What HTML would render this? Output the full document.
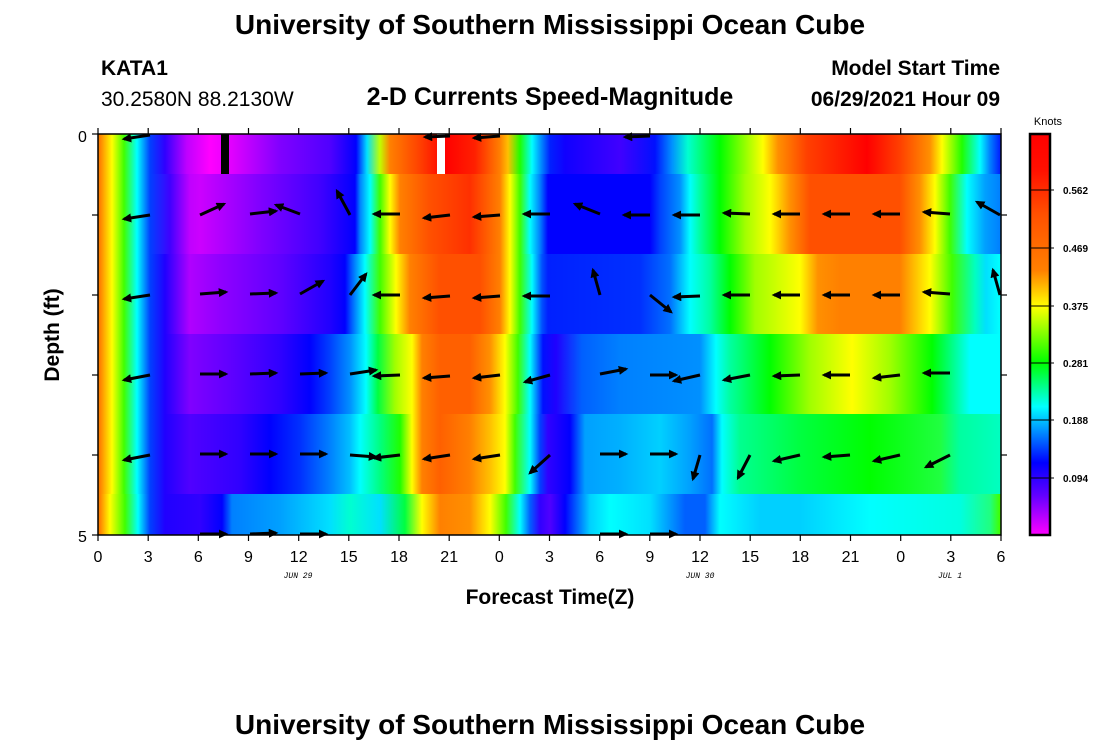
<!DOCTYPE html>
<html><head><meta charset="utf-8"><style>
body{margin:0;background:#fff;}
svg{display:block;font-family:"Liberation Sans",sans-serif;}
</style></head><body>
<svg width="1100" height="750" viewBox="0 0 1100 750" xmlns="http://www.w3.org/2000/svg">
<defs>
<linearGradient id="gA" gradientUnits="userSpaceOnUse" x1="0" y1="0" x2="1000" y2="0">
<stop offset=".100" stop-color="#ff8000"/><stop offset=".112" stop-color="#ffff00"/><stop offset=".124" stop-color="#40ff00"/><stop offset=".137" stop-color="#00ffff"/><stop offset=".150" stop-color="#0040ff"/><stop offset=".165" stop-color="#3000ff"/><stop offset=".187" stop-color="#c000ff"/><stop offset=".210" stop-color="#ff00ff"/><stop offset=".232" stop-color="#e000ff"/><stop offset=".280" stop-color="#8000ff"/><stop offset=".330" stop-color="#5000ff"/><stop offset=".356" stop-color="#0000ff"/><stop offset=".367" stop-color="#00e0ff"/><stop offset=".380" stop-color="#c0ff00"/><stop offset=".390" stop-color="#ff8000"/><stop offset=".420" stop-color="#ff4000"/><stop offset=".445" stop-color="#ff0000"/><stop offset=".475" stop-color="#ff2000"/><stop offset=".500" stop-color="#ff8000"/><stop offset=".508" stop-color="#ffc000"/><stop offset=".520" stop-color="#20ff00"/><stop offset=".532" stop-color="#00ffff"/><stop offset=".542" stop-color="#0080ff"/><stop offset=".550" stop-color="#0020ff"/><stop offset=".565" stop-color="#1000ff"/><stop offset=".620" stop-color="#4000ff"/><stop offset=".655" stop-color="#0010ff"/><stop offset=".672" stop-color="#0090ff"/><stop offset=".688" stop-color="#00ffd0"/><stop offset=".700" stop-color="#00ff80"/><stop offset=".720" stop-color="#00ff00"/><stop offset=".747" stop-color="#a0ff00"/><stop offset=".763" stop-color="#ffff00"/><stop offset=".778" stop-color="#ff9000"/><stop offset=".807" stop-color="#ff4000"/><stop offset=".867" stop-color="#ff0000"/><stop offset=".900" stop-color="#ff4000"/><stop offset=".930" stop-color="#ff9000"/><stop offset=".942" stop-color="#ffff00"/><stop offset=".962" stop-color="#20ff00"/><stop offset=".980" stop-color="#00ffff"/><stop offset=".990" stop-color="#0080ff"/><stop offset="1" stop-color="#0020ff"/>
</linearGradient>
<linearGradient id="gB" gradientUnits="userSpaceOnUse" x1="0" y1="0" x2="1000" y2="0">
<stop offset=".100" stop-color="#ff8000"/><stop offset=".112" stop-color="#ffff00"/><stop offset=".124" stop-color="#40ff00"/><stop offset=".137" stop-color="#00ffff"/><stop offset=".150" stop-color="#0040ff"/><stop offset=".170" stop-color="#4000ff"/><stop offset=".190" stop-color="#c000ff"/><stop offset=".200" stop-color="#cc00ff"/><stop offset=".260" stop-color="#8000ff"/><stop offset=".320" stop-color="#4000ff"/><stop offset=".355" stop-color="#0000ff"/><stop offset=".360" stop-color="#0080ff"/><stop offset=".370" stop-color="#00ffff"/><stop offset=".380" stop-color="#40ff00"/><stop offset=".390" stop-color="#ffff00"/><stop offset=".400" stop-color="#ff8000"/><stop offset=".430" stop-color="#ff5000"/><stop offset=".470" stop-color="#ff3000"/><stop offset=".500" stop-color="#ff8000"/><stop offset=".510" stop-color="#ffff00"/><stop offset=".520" stop-color="#40ff00"/><stop offset=".530" stop-color="#00ffff"/><stop offset=".540" stop-color="#0080ff"/><stop offset=".548" stop-color="#0000ff"/><stop offset=".650" stop-color="#0000ff"/><stop offset=".660" stop-color="#0040ff"/><stop offset=".680" stop-color="#0090ff"/><stop offset=".690" stop-color="#00ffff"/><stop offset=".700" stop-color="#00ffa0"/><stop offset=".720" stop-color="#00ff00"/><stop offset=".745" stop-color="#a0ff00"/><stop offset=".770" stop-color="#ffff00"/><stop offset=".790" stop-color="#ff9000"/><stop offset=".810" stop-color="#ff5000"/><stop offset=".900" stop-color="#ff5000"/><stop offset=".920" stop-color="#ff9000"/><stop offset=".935" stop-color="#ffff00"/><stop offset=".950" stop-color="#40ff00"/><stop offset=".967" stop-color="#00ffff"/><stop offset=".985" stop-color="#00a0ff"/><stop offset="1" stop-color="#0080ff"/>
</linearGradient>
<linearGradient id="gC" gradientUnits="userSpaceOnUse" x1="0" y1="0" x2="1000" y2="0">
<stop offset=".100" stop-color="#ff8000"/><stop offset=".112" stop-color="#ffff00"/><stop offset=".124" stop-color="#40ff00"/><stop offset=".137" stop-color="#00ffff"/><stop offset=".150" stop-color="#0040ff"/><stop offset=".165" stop-color="#2000ff"/><stop offset=".190" stop-color="#b000ff"/><stop offset=".220" stop-color="#9000ff"/><stop offset=".280" stop-color="#6000ff"/><stop offset=".330" stop-color="#2000ff"/><stop offset=".345" stop-color="#0000ff"/><stop offset=".352" stop-color="#0060ff"/><stop offset=".365" stop-color="#00ffff"/><stop offset=".380" stop-color="#40ff00"/><stop offset=".396" stop-color="#ffff00"/><stop offset=".410" stop-color="#ff8000"/><stop offset=".440" stop-color="#ff5000"/><stop offset=".480" stop-color="#ff5000"/><stop offset=".500" stop-color="#ff8000"/><stop offset=".510" stop-color="#ffff00"/><stop offset=".520" stop-color="#40ff00"/><stop offset=".532" stop-color="#00ffff"/><stop offset=".542" stop-color="#0050ff"/><stop offset=".548" stop-color="#0020ff"/><stop offset=".640" stop-color="#0030ff"/><stop offset=".670" stop-color="#0070ff"/><stop offset=".690" stop-color="#00ffff"/><stop offset=".710" stop-color="#00ffa0"/><stop offset=".730" stop-color="#00ff00"/><stop offset=".755" stop-color="#a0ff00"/><stop offset=".800" stop-color="#ffff00"/><stop offset=".818" stop-color="#ff9000"/><stop offset=".840" stop-color="#ff8000"/><stop offset=".900" stop-color="#ff8000"/><stop offset=".915" stop-color="#ffc000"/><stop offset=".930" stop-color="#ffff00"/><stop offset=".952" stop-color="#40ff00"/><stop offset=".975" stop-color="#00ffc0"/><stop offset=".986" stop-color="#00e0ff"/><stop offset="1" stop-color="#00ffff"/>
</linearGradient>
<linearGradient id="gD" gradientUnits="userSpaceOnUse" x1="0" y1="0" x2="1000" y2="0">
<stop offset=".100" stop-color="#ff8000"/><stop offset=".112" stop-color="#ffff00"/><stop offset=".124" stop-color="#40ff00"/><stop offset=".137" stop-color="#00ffff"/><stop offset=".150" stop-color="#0040ff"/><stop offset=".165" stop-color="#2000ff"/><stop offset=".190" stop-color="#8000ff"/><stop offset=".230" stop-color="#6000ff"/><stop offset=".280" stop-color="#3000ff"/><stop offset=".310" stop-color="#0000ff"/><stop offset=".330" stop-color="#0040ff"/><stop offset=".350" stop-color="#0090ff"/><stop offset=".366" stop-color="#00ffff"/><stop offset=".378" stop-color="#00ff40"/><stop offset=".395" stop-color="#a0ff00"/><stop offset=".412" stop-color="#ffff00"/><stop offset=".422" stop-color="#ff8000"/><stop offset=".440" stop-color="#ff6000"/><stop offset=".470" stop-color="#ff6000"/><stop offset=".490" stop-color="#ff9000"/><stop offset=".505" stop-color="#ffff00"/><stop offset=".518" stop-color="#40ff00"/><stop offset=".530" stop-color="#00ffff"/><stop offset=".543" stop-color="#0010ff"/><stop offset=".556" stop-color="#2000ff"/><stop offset=".582" stop-color="#0060ff"/><stop offset=".620" stop-color="#0080ff"/><stop offset=".700" stop-color="#0090ff"/><stop offset=".716" stop-color="#00ffff"/><stop offset=".730" stop-color="#00ffa0"/><stop offset=".770" stop-color="#00ff00"/><stop offset=".810" stop-color="#a0ff00"/><stop offset=".852" stop-color="#ffff00"/><stop offset=".890" stop-color="#a0ff00"/><stop offset=".932" stop-color="#00ff00"/><stop offset=".956" stop-color="#00ffa0"/><stop offset=".970" stop-color="#00ffff"/><stop offset="1" stop-color="#00ffff"/>
</linearGradient>
<linearGradient id="gE" gradientUnits="userSpaceOnUse" x1="0" y1="0" x2="1000" y2="0">
<stop offset=".100" stop-color="#ff8000"/><stop offset=".112" stop-color="#ffff00"/><stop offset=".124" stop-color="#40ff00"/><stop offset=".137" stop-color="#00ffff"/><stop offset=".150" stop-color="#0040ff"/><stop offset=".165" stop-color="#2000ff"/><stop offset=".190" stop-color="#5000ff"/><stop offset=".240" stop-color="#3000ff"/><stop offset=".270" stop-color="#0000ff"/><stop offset=".300" stop-color="#0030ff"/><stop offset=".330" stop-color="#0080ff"/><stop offset=".350" stop-color="#00c0ff"/><stop offset=".360" stop-color="#00ffff"/><stop offset=".380" stop-color="#00ff80"/><stop offset=".400" stop-color="#20ff00"/><stop offset=".412" stop-color="#ffff00"/><stop offset=".422" stop-color="#ff8000"/><stop offset=".440" stop-color="#ff6000"/><stop offset=".470" stop-color="#ff8000"/><stop offset=".490" stop-color="#ffc000"/><stop offset=".505" stop-color="#ffff00"/><stop offset=".515" stop-color="#40ff00"/><stop offset=".530" stop-color="#00ffff"/><stop offset=".540" stop-color="#0040ff"/><stop offset=".548" stop-color="#3000ff"/><stop offset=".570" stop-color="#0000ff"/><stop offset=".585" stop-color="#00a0ff"/><stop offset=".620" stop-color="#00b0ff"/><stop offset=".660" stop-color="#00d0ff"/><stop offset=".690" stop-color="#00a0ff"/><stop offset=".712" stop-color="#0070ff"/><stop offset=".722" stop-color="#00ffff"/><stop offset=".740" stop-color="#00ff90"/><stop offset=".800" stop-color="#00ff40"/><stop offset=".870" stop-color="#00ff00"/><stop offset=".940" stop-color="#20ff40"/><stop offset=".960" stop-color="#00ffa0"/><stop offset="1" stop-color="#00ffc0"/>
</linearGradient>
<linearGradient id="gF" gradientUnits="userSpaceOnUse" x1="0" y1="0" x2="1000" y2="0">
<stop offset=".100" stop-color="#ff8000"/><stop offset=".110" stop-color="#ffff00"/><stop offset=".125" stop-color="#40ff00"/><stop offset=".138" stop-color="#00ffff"/><stop offset=".150" stop-color="#0040ff"/><stop offset=".165" stop-color="#2000ff"/><stop offset=".200" stop-color="#3000ff"/><stop offset=".222" stop-color="#0000ff"/><stop offset=".232" stop-color="#0080ff"/><stop offset=".280" stop-color="#00a0ff"/><stop offset=".330" stop-color="#00e0ff"/><stop offset=".350" stop-color="#00ffd0"/><stop offset=".380" stop-color="#00e0ff"/><stop offset=".405" stop-color="#00ff40"/><stop offset=".422" stop-color="#ffff00"/><stop offset=".440" stop-color="#ff8000"/><stop offset=".470" stop-color="#ff9000"/><stop offset=".490" stop-color="#ffff00"/><stop offset=".506" stop-color="#40ff00"/><stop offset=".520" stop-color="#00ffff"/><stop offset=".530" stop-color="#0060ff"/><stop offset=".540" stop-color="#3000ff"/><stop offset=".550" stop-color="#5000ff"/><stop offset=".565" stop-color="#0000ff"/><stop offset=".590" stop-color="#00d0ff"/><stop offset=".610" stop-color="#00ffff"/><stop offset=".650" stop-color="#00e0ff"/><stop offset=".685" stop-color="#0060ff"/><stop offset=".705" stop-color="#0060ff"/><stop offset=".720" stop-color="#00ffff"/><stop offset=".760" stop-color="#00d0ff"/><stop offset=".800" stop-color="#00d0ff"/><stop offset=".870" stop-color="#00ffff"/><stop offset=".960" stop-color="#00ffe0"/><stop offset=".990" stop-color="#20ff80"/><stop offset="1" stop-color="#40ff00"/>
</linearGradient>
<linearGradient id="cb" x1="0" y1="0" x2="0" y2="1">
<stop offset="0" stop-color="#ff0000"/><stop offset=".09" stop-color="#ff1000"/><stop offset=".2" stop-color="#ff5000"/><stop offset=".34" stop-color="#ff8000"/><stop offset=".43" stop-color="#ffff00"/><stop offset=".57" stop-color="#00ff00"/><stop offset=".68" stop-color="#00ffff"/><stop offset=".82" stop-color="#0000ff"/><stop offset=".9" stop-color="#6000ff"/><stop offset="1" stop-color="#ff00ff"/>
</linearGradient>
<marker id="ah" markerWidth="3.2" markerHeight="3" refX="2.4" refY="1.5" orient="auto" markerUnits="strokeWidth">
<path d="M0,0 L3.2,1.5 L0,3 z" fill="#000"/>
</marker>
</defs>

<text x="550" y="34" font-size="28" font-weight="bold" text-anchor="middle">University of Southern Mississippi Ocean Cube</text>
<text x="550" y="734" font-size="28" font-weight="bold" text-anchor="middle">University of Southern Mississippi Ocean Cube</text>
<text x="101" y="75" font-size="21" font-weight="bold">KATA1</text>
<text x="101" y="106" font-size="21">30.2580N  88.2130W</text>
<text x="550" y="105" font-size="25" font-weight="bold" text-anchor="middle">2-D Currents Speed-Magnitude</text>
<text x="1000" y="75" font-size="21" font-weight="bold" text-anchor="end">Model Start Time</text>
<text x="1000" y="106" font-size="21" font-weight="bold" text-anchor="end">06/29/2021 Hour 09</text>

<rect x="98" y="134" width="903" height="40" fill="url(#gA)"/>
<rect x="98" y="174" width="903" height="80" fill="url(#gB)"/>
<rect x="98" y="254" width="903" height="80" fill="url(#gC)"/>
<rect x="98" y="334" width="903" height="80" fill="url(#gD)"/>
<rect x="98" y="414" width="903" height="80" fill="url(#gE)"/>
<rect x="98" y="494" width="903" height="41" fill="url(#gF)"/>
<rect x="221" y="134" width="8" height="40" fill="#000"/>
<rect x="437" y="134" width="8" height="40" fill="#fff"/>

<g stroke="#000" stroke-width="3" marker-end="url(#ah)" fill="none">
<line x1="150" y1="135" x2="124" y2="139"/><line x1="450" y1="136" x2="425" y2="137"/><line x1="500" y1="136" x2="474" y2="138"/><line x1="650" y1="136" x2="625" y2="137"/>
<line x1="150" y1="215" x2="124" y2="219"/><line x1="200" y1="215" x2="224" y2="204"/><line x1="250" y1="214" x2="276" y2="211"/><line x1="300" y1="214" x2="276" y2="205"/><line x1="350" y1="215" x2="337" y2="191"/><line x1="400" y1="214" x2="374" y2="214"/><line x1="450" y1="215" x2="424" y2="218"/><line x1="500" y1="215" x2="474" y2="217"/><line x1="550" y1="214" x2="524" y2="214"/><line x1="600" y1="214" x2="575" y2="204"/><line x1="650" y1="215" x2="624" y2="215"/><line x1="700" y1="215" x2="674" y2="215"/><line x1="750" y1="214" x2="724" y2="213"/><line x1="800" y1="214" x2="774" y2="214"/><line x1="850" y1="214" x2="824" y2="214"/><line x1="900" y1="214" x2="874" y2="214"/><line x1="950" y1="214" x2="924" y2="212"/><line x1="1000" y1="215" x2="977" y2="202"/>
<line x1="150" y1="295" x2="124" y2="299"/><line x1="200" y1="294" x2="226" y2="292"/><line x1="250" y1="294" x2="276" y2="293"/><line x1="300" y1="294" x2="323" y2="281"/><line x1="350" y1="295" x2="366" y2="274"/><line x1="400" y1="295" x2="374" y2="295"/><line x1="450" y1="296" x2="424" y2="298"/><line x1="500" y1="296" x2="474" y2="298"/><line x1="550" y1="296" x2="524" y2="296"/><line x1="600" y1="295" x2="593" y2="270"/><line x1="650" y1="295" x2="671" y2="312"/><line x1="700" y1="296" x2="674" y2="297"/><line x1="750" y1="295" x2="724" y2="295"/><line x1="800" y1="295" x2="774" y2="295"/><line x1="850" y1="295" x2="824" y2="295"/><line x1="900" y1="295" x2="874" y2="295"/><line x1="950" y1="294" x2="924" y2="292"/><line x1="1000" y1="295" x2="993" y2="270"/>
<line x1="150" y1="375" x2="124" y2="380"/><line x1="200" y1="374" x2="226" y2="374"/><line x1="250" y1="374" x2="276" y2="373"/><line x1="300" y1="374" x2="326" y2="373"/><line x1="350" y1="374" x2="376" y2="370"/><line x1="400" y1="375" x2="374" y2="376"/><line x1="450" y1="376" x2="424" y2="378"/><line x1="500" y1="375" x2="474" y2="378"/><line x1="550" y1="375" x2="525" y2="382"/><line x1="600" y1="374" x2="626" y2="369"/><line x1="650" y1="375" x2="676" y2="375"/><line x1="700" y1="375" x2="674" y2="381"/><line x1="750" y1="375" x2="724" y2="380"/><line x1="800" y1="375" x2="774" y2="376"/><line x1="850" y1="375" x2="824" y2="375"/><line x1="900" y1="375" x2="874" y2="378"/><line x1="950" y1="373" x2="924" y2="373"/>
<line x1="150" y1="455" x2="124" y2="460"/><line x1="200" y1="454" x2="226" y2="454"/><line x1="250" y1="454" x2="276" y2="454"/><line x1="300" y1="454" x2="326" y2="454"/><line x1="350" y1="455" x2="376" y2="457"/><line x1="400" y1="455" x2="374" y2="458"/><line x1="450" y1="455" x2="424" y2="459"/><line x1="500" y1="455" x2="474" y2="459"/><line x1="550" y1="455" x2="530" y2="473"/><line x1="600" y1="454" x2="626" y2="454"/><line x1="650" y1="454" x2="676" y2="454"/><line x1="700" y1="455" x2="693" y2="479"/><line x1="750" y1="455" x2="738" y2="478"/><line x1="800" y1="455" x2="774" y2="461"/><line x1="850" y1="455" x2="824" y2="457"/><line x1="900" y1="455" x2="874" y2="461"/><line x1="950" y1="455" x2="926" y2="467"/>
<line x1="200" y1="534" x2="226" y2="534"/><line x1="250" y1="534" x2="276" y2="533"/><line x1="300" y1="534" x2="326" y2="534"/><line x1="600" y1="534" x2="626" y2="534"/><line x1="650" y1="534" x2="676" y2="534"/>
</g>

<rect x="98" y="134" width="903" height="401" fill="none" stroke="#000" stroke-width="1.5"/>
<g stroke="#000" stroke-width="1.2">
<line x1="92" y1="134" x2="98" y2="134"/><line x1="92" y1="535" x2="98" y2="535"/>
<line x1="92" y1="215" x2="98" y2="215"/><line x1="92" y1="295" x2="98" y2="295"/><line x1="92" y1="375" x2="98" y2="375"/><line x1="92" y1="455" x2="98" y2="455"/>
<line x1="1001" y1="215" x2="1007" y2="215"/><line x1="1001" y1="295" x2="1007" y2="295"/><line x1="1001" y1="375" x2="1007" y2="375"/><line x1="1001" y1="455" x2="1007" y2="455"/>
<path d="M98,535v6M148.2,535v6M198.3,535v6M248.5,535v6M298.7,535v6M348.8,535v6M399,535v6M449.2,535v6M499.3,535v6M549.5,535v6M599.7,535v6M649.8,535v6M700,535v6M750.2,535v6M800.3,535v6M850.5,535v6M900.7,535v6M950.8,535v6M1001,535v6"/>
<path d="M98,134v-6M148.2,134v-6M198.3,134v-6M248.5,134v-6M298.7,134v-6M348.8,134v-6M399,134v-6M449.2,134v-6M499.3,134v-6M549.5,134v-6M599.7,134v-6M649.8,134v-6M700,134v-6M750.2,134v-6M800.3,134v-6M850.5,134v-6M900.7,134v-6M950.8,134v-6M1001,134v-6"/>
</g>
<g font-size="16" text-anchor="middle">
<text x="98" y="562">0</text><text x="148.2" y="562">3</text><text x="198.3" y="562">6</text><text x="248.5" y="562">9</text><text x="298.7" y="562">12</text><text x="348.8" y="562">15</text><text x="399" y="562">18</text><text x="449.2" y="562">21</text><text x="499.3" y="562">0</text><text x="549.5" y="562">3</text><text x="599.7" y="562">6</text><text x="649.8" y="562">9</text><text x="700" y="562">12</text><text x="750.2" y="562">15</text><text x="800.3" y="562">18</text><text x="850.5" y="562">21</text><text x="900.7" y="562">0</text><text x="950.8" y="562">3</text><text x="1001" y="562">6</text>
</g>
<g font-size="8" font-style="italic" font-family="Liberation Mono,monospace" text-anchor="middle">
<text x="298" y="578">JUN 29</text><text x="700" y="578">JUN 30</text><text x="950" y="578">JUL 1</text>
</g>
<text x="78" y="142" font-size="16">0</text>
<text x="78" y="542" font-size="16">5</text>
<text x="550" y="604" font-size="21" font-weight="bold" text-anchor="middle">Forecast Time(Z)</text>
<text transform="translate(59,335) rotate(-90)" font-size="21" font-weight="bold" text-anchor="middle">Depth (ft)</text>

<text x="1048" y="125" font-size="11" text-anchor="middle">Knots</text>
<rect x="1030" y="134" width="20" height="401" fill="url(#cb)" stroke="#000" stroke-width="2.5"/>
<g stroke="#000" stroke-width="1">
<line x1="1030" y1="190" x2="1054" y2="190"/><line x1="1030" y1="248" x2="1054" y2="248"/><line x1="1030" y1="306" x2="1054" y2="306"/><line x1="1030" y1="363" x2="1054" y2="363"/><line x1="1030" y1="420" x2="1054" y2="420"/><line x1="1030" y1="478" x2="1054" y2="478"/>
</g>
<g font-size="10" font-weight="bold">
<text x="1063" y="194">0.562</text><text x="1063" y="252">0.469</text><text x="1063" y="310">0.375</text><text x="1063" y="367">0.281</text><text x="1063" y="424">0.188</text><text x="1063" y="482">0.094</text>
</g>
</svg>
</body></html>
